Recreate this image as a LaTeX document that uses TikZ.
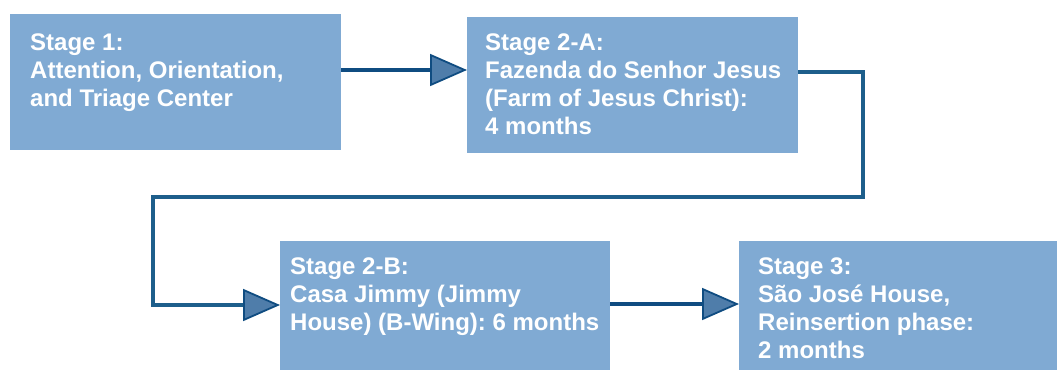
\documentclass[tikz,border=0pt]{standalone}
\usepackage{fontspec}
\setmainfont{Liberation Sans}
\usetikzlibrary{arrows.meta,calc}
\definecolor{boxfill}{HTML}{80AAD3}
\definecolor{linedark}{HTML}{0F4C81}
\definecolor{lineelbow}{HTML}{1D5E8B}
\definecolor{tipfill}{HTML}{4F7DAA}
\frenchspacing
\newcommand{\stagelines}[1]{\begin{tabular}[t]{@{}l@{}}#1\end{tabular}}
\begin{document}
\begin{tikzpicture}[x=1pt,y=-1pt,
  stagebox/.style={fill=boxfill, draw=none, inner sep=0pt, outer sep=0pt, anchor=north west},
  stagetext/.style={anchor=base west, inner sep=0pt, text=white, font=\bfseries\fontsize{24}{28}\selectfont\frenchspacing},
  conn/.style={line width=4.4pt, -{Triangle[length=37pt,width=32pt,line width=1.8pt,fill=tipfill,color=linedark]}}]
\useasboundingbox[fill=white] (0,0) rectangle (1057,370);
\node[stagebox, minimum width=331pt, minimum height=136pt] (b1) at (10,14) {};
\node[stagebox, minimum width=331pt, minimum height=136pt] (b2) at (467,17) {};
\node[stagebox, minimum width=330pt, minimum height=129pt] (b3) at (280,241) {};
\node[stagebox, minimum width=318pt, minimum height=129pt] (b4) at (739,241) {};
\node[stagetext] (t1) at (30,50) {\stagelines{Stage 1:\\Attention, Orientation,\\and Triage Center}};
\node[stagetext] (t2) at (485,50) {\stagelines{Stage 2-A:\\Fazenda do Senhor Jesus\\(Farm of Jesus Christ):\\4 months}};
\node[stagetext] (t3) at (290,274) {\stagelines{Stage 2-B:\\Casa Jimmy (Jimmy\\House) (B-Wing): 6 months}};
\node[stagetext] (t4) at (758,274) {\stagelines{Stage 3:\\São José House,\\Reinsertion phase:\\2 months}};
\coordinate (e1) at (863,197);
\coordinate (e2) at (153,197);
\draw[conn, linedark] ($(b1.north east)+(0,56)$) -- ($(b2.north west)+(0,53)$);
\draw[conn, lineelbow] ($(b2.north east)+(0,55)$) -| (e1) -- (e2) |- ($(b3.north west)+(0,64)$);
\draw[conn, linedark] ($(b3.north east)+(0,63)$) -- ($(b4.north west)+(0,63)$);
\end{tikzpicture}
\end{document}
